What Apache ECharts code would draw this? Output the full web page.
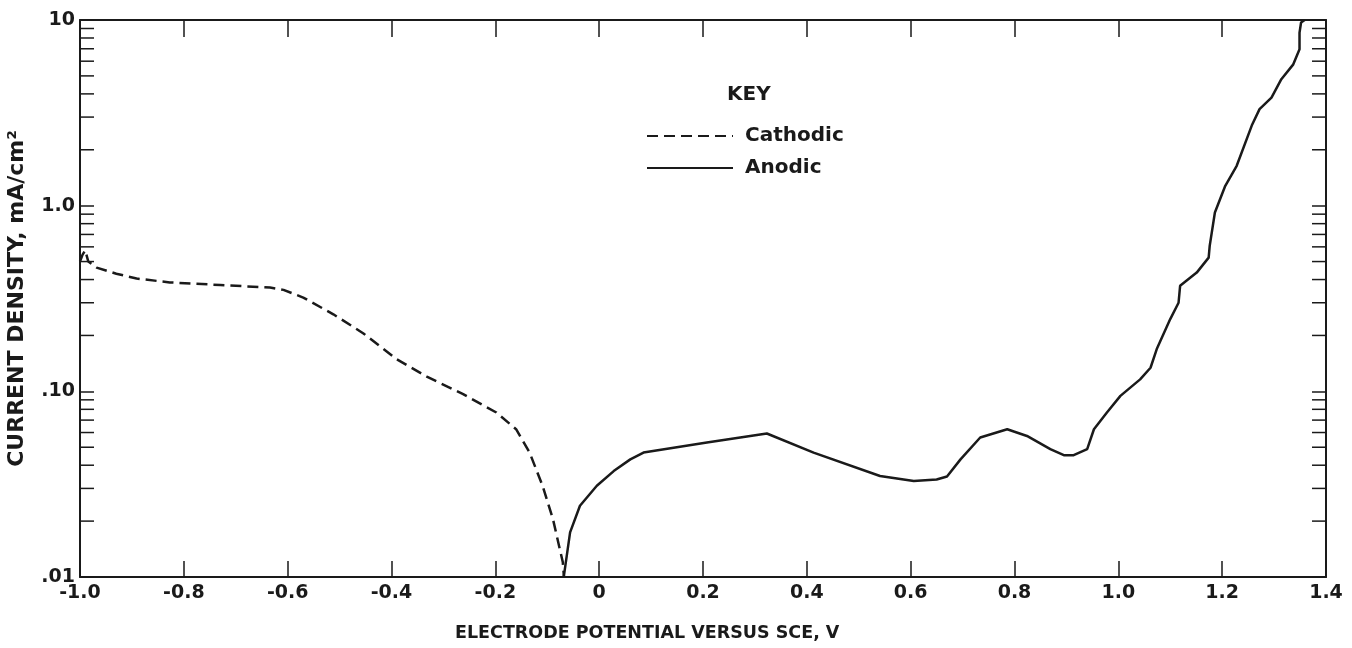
<!DOCTYPE html>
<html>
<head>
<meta charset="utf-8">
<script src="https://cdn.jsdelivr.net/npm/echarts@6/dist/echarts.min.js"></script>
<style>
html,body{margin:0;padding:0;background:#fff;}
#chart{width:1352px;height:648px;}
</style>
</head>
<body>
<div id="chart"></div>
<script>
// ---- data ----
const cathodicV = [-1.000, -0.995, -0.990, -0.984, -0.968, -0.930, -0.891, -0.827, -0.730, -0.634, -0.608, -0.570, -0.512, -0.454, -0.390, -0.332, -0.262, -0.198, -0.160, -0.134, -0.109, -0.089, -0.070, -0.068];
const cathodicI = [0.50, 0.545, 0.575, 0.50, 0.464, 0.43, 0.405, 0.386, 0.374, 0.362, 0.352, 0.32, 0.26, 0.205, 0.149, 0.120, 0.0965, 0.0769, 0.0625, 0.0468, 0.031, 0.0205, 0.012, 0.0101];
const anodicV = [-0.068, -0.056, -0.037, -0.0045, 0.028, 0.060, 0.0854, 0.2075, 0.323, 0.413, 0.541, 0.606, 0.650, 0.670, 0.696, 0.734, 0.786, 0.824, 0.869, 0.895, 0.914, 0.940, 0.953, 0.978, 1.004, 1.042, 1.062, 1.074, 1.100, 1.116, 1.119, 1.151, 1.174, 1.176, 1.186, 1.206, 1.228, 1.257, 1.272, 1.295, 1.314, 1.337, 1.349, 1.349, 1.352, 1.359];
const anodicI = [0.0101, 0.0174, 0.0242, 0.031, 0.0372, 0.043, 0.0468, 0.053, 0.0593, 0.0468, 0.035, 0.0329, 0.0335, 0.0348, 0.043, 0.0564, 0.0625, 0.0575, 0.0488, 0.0453, 0.0453, 0.0488, 0.0625, 0.0769, 0.0945, 0.116, 0.134, 0.169, 0.245, 0.30, 0.37, 0.436, 0.525, 0.607, 0.918, 1.28, 1.64, 2.70, 3.31, 3.82, 4.80, 5.77, 6.95, 8.55, 9.7, 10];
const yMinorTicks = [0.02, 0.03, 0.04, 0.05, 0.06, 0.07, 0.08, 0.09, 0.2, 0.3, 0.4, 0.5, 0.6, 0.7, 0.8, 0.9, 2, 3, 4, 5, 6, 7, 8, 9];
const yTickLabels = {'-2': '.01', '-1': '.10', '0': '1.0', '1': '10'};
const xMin = -1.0, xMax = 1.4, xStep = 0.2;
const yMin = 0.01, yMax = 10;

const FONT = 'DejaVu Sans';
const INK = '#1a1a1a';

const chart = echarts.init(document.getElementById('chart'), null, {renderer: 'canvas'});

const xAxisBase = {
  type: 'value', min: xMin, max: xMax, interval: xStep,
  splitLine: {show: false},
  axisLine: {onZero: false, lineStyle: {color: INK, width: 2}},
};
const yAxisBase = {
  type: 'log', logBase: 10, min: yMin, max: yMax,
  splitLine: {show: false},
  axisLine: {onZero: false, lineStyle: {color: INK, width: 2}},
};

const option = {
  backgroundColor: '#fff',
  animation: false,
  grid: {left: 80, right: 26, top: 20, bottom: 71, containLabel: false, outerBoundsMode: 'none'},
  xAxis: [
    Object.assign({}, xAxisBase, {
      position: 'bottom',
      axisTick: {inside: true, length: 16, lineStyle: {color: INK, width: 1.5}},
      axisLabel: {
        color: INK, fontFamily: FONT, fontWeight: 'bold', fontSize: 19, margin: 7,
        formatter: v => Math.abs(v) < 1e-9 ? '0' : v.toFixed(1)
      }
    }),
    Object.assign({}, xAxisBase, {
      position: 'top',
      axisTick: {inside: true, length: 17, lineStyle: {color: INK, width: 1.5}},
      axisLabel: {show: false}
    })
  ],
  yAxis: [
    Object.assign({}, yAxisBase, {
      position: 'left',
      name: 'CURRENT DENSITY, mA/cm²',
      nameLocation: 'middle',
      nameGap: 52,
      nameTextStyle: {color: INK, fontFamily: FONT, fontWeight: 'bold', fontSize: 22},
      axisTick: {inside: true, length: 14, lineStyle: {color: INK, width: 1.5}},
      axisLabel: {
        color: INK, fontFamily: FONT, fontWeight: 'bold', fontSize: 19, margin: 5,
        formatter: v => yTickLabels[String(Math.round(Math.log10(v)))] || ''
      }
    }),
    Object.assign({}, yAxisBase, {
      position: 'right',
      axisTick: {inside: true, length: 14, lineStyle: {color: INK, width: 1.5}},
      axisLabel: {show: false}
    })
  ],
  legend: {
    data: ['Cathodic', 'Anodic'],
    orient: 'vertical',
    left: 641, top: 121,
    itemWidth: 86, itemHeight: 22, itemGap: 12,
    itemStyle: {color: 'rgba(0,0,0,0)', borderWidth: 0, opacity: 0},
    textStyle: {color: INK, fontFamily: FONT, fontWeight: 'bold', fontSize: 20, padding: [0, 0, 0, 7]},
    selectedMode: false
  },
  graphic: [
    {type: 'text', left: 727, top: 85, style: {text: 'KEY', fill: INK, font: 'bold 20px "DejaVu Sans"'}},
    {type: 'text', left: 455, top: 624, style: {text: 'ELECTRODE POTENTIAL VERSUS SCE, V', fill: INK, font: 'bold 17.5px "DejaVu Sans"'}}
  ],
  series: [
    {
      name: 'Cathodic', type: 'line', xAxisIndex: 0, yAxisIndex: 0,
      symbol: 'none', smooth: false,
      lineStyle: {color: INK, width: 2.5, type: [11, 6]},
      itemStyle: {color: INK},
      data: cathodicV.map((v, i) => [v, cathodicI[i]])
    },
    {
      name: 'Anodic', type: 'line', xAxisIndex: 0, yAxisIndex: 0,
      symbol: 'none', smooth: false,
      lineStyle: {color: INK, width: 2.5, type: 'solid'},
      itemStyle: {color: INK},
      data: anodicV.map((v, i) => [v, anodicI[i]])
    },
    {
      name: 'minorTicks', type: 'custom', xAxisIndex: 0, yAxisIndex: 0,
      silent: true,
      encode: {x: 0, y: 1},
      data: yMinorTicks.map(v => [xMin, v]),
      renderItem: function (params, api) {
        const v = api.value(1);
        const l = api.coord([xMin, v]);
        const r = api.coord([xMax, v]);
        const st = {stroke: INK, lineWidth: 1.5};
        return {
          type: 'group',
          children: [
            {type: 'line', shape: {x1: l[0], y1: l[1], x2: l[0] + 14, y2: l[1]}, style: st},
            {type: 'line', shape: {x1: r[0] - 14, y1: r[1], x2: r[0], y2: r[1]}, style: st}
          ]
        };
      }
    }
  ]
};
chart.setOption(option);
</script>
</body>
</html>
